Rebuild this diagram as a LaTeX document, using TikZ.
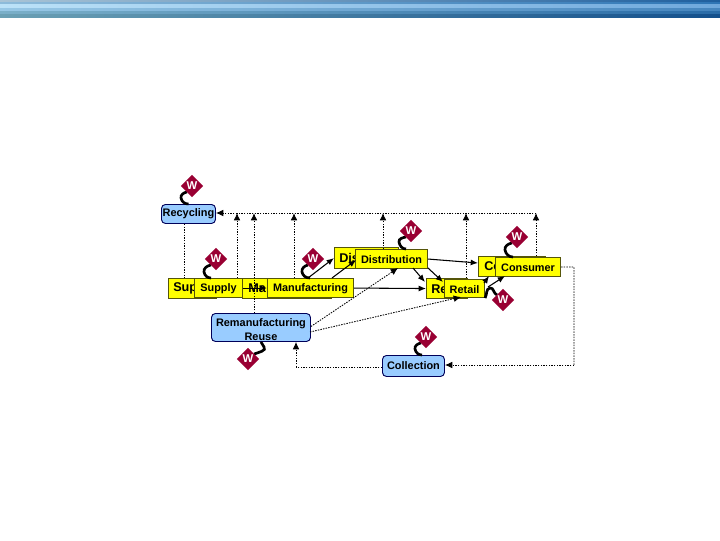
\documentclass[tikz,border=0pt]{standalone}
\usepackage{fontspec}
\setmainfont{Liberation Sans}
\usetikzlibrary{shapes.geometric,arrows.meta,calc}
\definecolor{ybox}{HTML}{FFFF00}
\definecolor{bbox}{HTML}{99CCFF}
\definecolor{wred}{HTML}{990033}
\definecolor{yedge}{HTML}{55550A}
\tikzset{
 x=0.75pt,y=-0.75pt,
 ynode/.style={draw=yedge,fill=ybox,line width=0.8pt,inner sep=0,anchor=north west},
 ylabel/.style={inner sep=0,font=\bfseries\fontsize{8.15}{9}\selectfont,text=black,yshift=-0.7pt},
 bnode/.style={draw=black!65!blue,fill=bbox,line width=0.7pt,rounded corners=3pt,inner sep=0,anchor=north west,align=center,font=\bfseries\fontsize{8.2}{10.2}\selectfont,text=black},
 backlabel/.style={anchor=west,inner sep=0,font=\bfseries\fontsize{9.5}{11}\selectfont},
 wnode/.style={diamond,aspect=1,fill=wred,inner sep=0,minimum size=17pt,text=white,font=\bfseries\fontsize{8.5}{9}\selectfont},
 squig/.style={line width=2pt,black},
 solidarrow/.style={line width=0.8pt,-{Latex[length=5.5pt,width=4.5pt]}},
 dotline/.style={line width=0.65pt,dash pattern=on 1.1pt off 0.9pt},
 dotarrow/.style={dotline,-{Latex[length=5.5pt,width=5pt]}},
}
\newcommand{\ybx}[5]{\node[ynode,minimum width=#4*0.75pt-#2*0.75pt,minimum height=#5*0.75pt-#3*0.75pt] (#1) at (#2,#3) {};}
\begin{document}
\begin{tikzpicture}
\useasboundingbox (0,0) rectangle (720,540);
% header band
\foreach \ya/\yb/\la/\ra in {
 0/2/A9C4D6/1F5F9E, 2/4/8DBBDA/2E75B5, 4/8/BCE2F8/6FA8DC, 8/11/98C8E6/4585BE, 11/14/7AAFC8/2A6CA8, 14/17.5/6BA0B4/14508C}{
 \definecolor{cl}{HTML}{\la}\definecolor{cr}{HTML}{\ra}
 \shade[left color=cl,right color=cr,shading angle=90] (0,\ya) rectangle (720,\yb);
}
% back yellow boxes
\ybx{supb}{168}{278}{216}{298}
\ybx{manb}{242}{278}{331}{298}
\ybx{disb}{334}{247}{398}{268}
\ybx{retb}{426}{278}{467}{298}
\ybx{conb}{478}{256}{545}{276}
\node[backlabel] (supt) at (173,288.5) {Sup};
\node[backlabel] (mant) at (248,288.5) {Ma};
\node[backlabel] (dist) at (339,258) {Dis};
\node[backlabel] (rett) at (431,289) {Re};
\node[backlabel] (cont) at (484,266.5) {Co};
% named bends
\coordinate (t1) at (237,213);
\coordinate (t2) at (254,213);
\coordinate (t3) at (294,213);
\coordinate (t4) at (383,213);
\coordinate (t5) at (466,213);
\coordinate (t6) at (536,213);
\coordinate (r1) at (574,267);
\coordinate (r2) at (574,365);
\coordinate (l1) at (296,367);
% blue boxes
\node[bnode,minimum width=40.5pt,minimum height=14.25pt] (recy) at (161,204) {\raisebox{-1.2pt}{Recycling}};
\node[bnode,minimum width=74.25pt,minimum height=21pt] (reman) at (211,313) {\rule{0pt}{9.2pt}Remanufacturing\\Reuse};
\node[bnode,minimum width=46.5pt,minimum height=15.75pt] (coll) at (382,355) {\raisebox{-2.5pt}{Collection}};
% dotted lines
\draw[dotline] (t6) -- (t1);
\draw[dotarrow] (t1) -- (recy.east |- t1);
\draw[dotline] (recy.south -| 184,0) -- (184,278);
\draw[dotarrow] (237,278) -- (t1);
\draw[dotarrow] (reman.north -| t2) -- (t2);
\draw[dotarrow] (294,278) -- (t3);
\draw[dotarrow] (383,249) -- (t4);
\draw[dotarrow] (466,278) -- (t5);
\draw[dotarrow] (536,256) -- (t6);
% front yellow boxes
\ybx{sup}{194}{278}{242}{297}
\ybx{man}{267}{278}{353}{297}
\ybx{dis}{355}{249}{427}{268}
\ybx{ret}{444}{279}{484}{297}
\ybx{con}{495}{257}{560}{276}
\node[ylabel] (supl) at (sup.center) {Supply};
\node[ylabel] (manl) at (man.center) {Manufacturing};
\node[ylabel] (disl) at (dis.center) {Distribution};
\node[ylabel] (retl) at (ret.center) {Retail};
\node[ylabel] (conl) at (con.center) {Consumer};
% dotted connectors
\draw[dotline] (con.east) -- (r1) -- (r2);
\draw[dotarrow] (r2) -- (coll.east |- r2);
\draw[dotline] (coll.west |- l1) -- (l1);
\draw[dotarrow] (l1) -- (l1 |- reman.south);
\draw[dotarrow] (reman.east) ++(0,-1) -- (398,268);
\draw[dotarrow] (310,332) -- (461,297);
% solid arrows
\draw[solidarrow] (sup.east) -- (man.west);
\draw[solidarrow] (man.east) -- (retb.west);
\draw[solidarrow] (308,278) -- (disb.west);
\draw[solidarrow] (332,278) -- (356,260);
\draw[solidarrow] (dis.east) -- (478,263);
\draw[solidarrow] (413,268) -- (425,282);
\draw[solidarrow] (428,268) -- (443,282);
\draw[solidarrow] (484,283) -- (489,276);
\draw[solidarrow] (488,287) -- (505,276);
% squiggles
\draw[squig] (187,192) to[out=190,in=100] (181,198) to[out=-80,in=180] (recy.north);
\draw[squig] (211,265) to[out=190,in=100] (204,272) to[out=-80,in=180] (sup.north -| 211,0);
\draw[squig] (308,265) to[out=190,in=100] (302,272) to[out=-80,in=180] (man.north -| 310,0);
\draw[squig] (406,237) to[out=190,in=100] (399,242) to[out=-80,in=180] (dis.north -| 406,0);
\draw[squig] (512,243) to[out=190,in=100] (505,250) to[out=-80,in=180] (con.north -| 513,0);
\draw[squig] (497,295) to[out=160,in=10] (490,288) to[out=190,in=60] (ret.south east);
\draw[squig] (254,354) to[out=20,in=-50] (264,347) to[out=130,in=-70] (reman.south -| 261,0);
\draw[squig] (421,343) to[out=190,in=100] (415,349) to[out=-80,in=180] (coll.north -| 422,0);
% W diamonds
\node[wnode] (w1) at (192,186) {W};
\node[wnode] (w2) at (216,259) {W};
\node[wnode] (w3) at (313,259) {W};
\node[wnode] (w4) at (411,231) {W};
\node[wnode] (w5) at (517,237) {W};
\node[wnode] (w6) at (503,300) {W};
\node[wnode] (w7) at (248,359) {W};
\node[wnode] (w8) at (426,337) {W};
\end{tikzpicture}
\end{document}
